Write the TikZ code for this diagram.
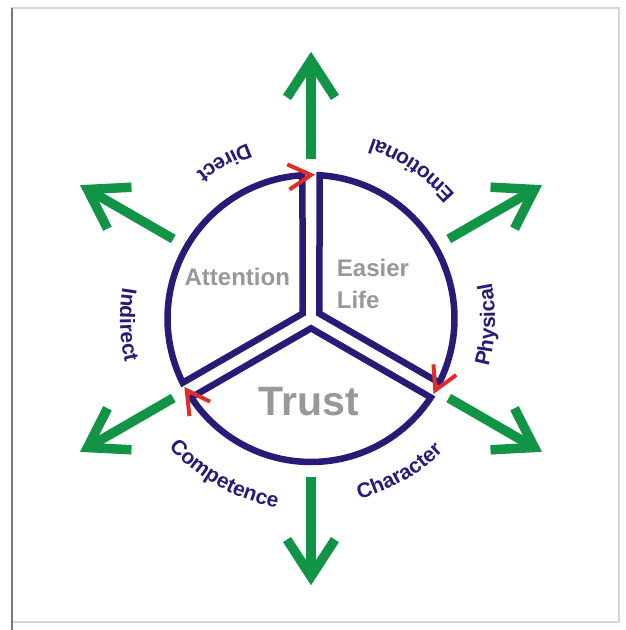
\documentclass[tikz,border=0pt]{standalone}
\usepackage{fontspec}
\setmainfont{Liberation Sans}
\usetikzlibrary{decorations.text}

\definecolor{ringnavy}{RGB}{40,26,118}
\definecolor{flowgreen}{RGB}{18,148,70}
\definecolor{tipred}{RGB}{226,44,38}
\definecolor{labelgray}{RGB}{152,152,152}
\definecolor{framelight}{RGB}{214,214,214}
\definecolor{framedark}{RGB}{120,120,120}

\newcommand{\ringlabelfont}{\fontsize{21}{21}\selectfont\bfseries}

\begin{document}
\begin{tikzpicture}[x=1pt,y=1pt,
  sector/.style={draw=ringnavy,line width=6.5pt,line join=miter},
  turnmark/.style={draw=tipred,line width=4pt,line join=miter},
  outshaft/.style={draw=flowgreen,line width=9.5pt,line cap=butt},
  outhead/.style={draw=flowgreen,line width=9.5pt,line join=miter,line cap=butt},
  graytext/.style={text=labelgray,font=\bfseries\fontsize{#1}{#1}\selectfont,inner sep=0pt},
  ringtext/.style={decorate,decoration={text along path,text={|\ringlabelfont|#1},
    text align=center,text color=ringnavy}}]

% page and frame
\useasboundingbox (0,0) rectangle (626,630);
\fill[white] (0,0) rectangle (626,630);
\draw[framelight,line width=1.2pt] (12,8) rectangle (619,622);
\draw[framedark,line width=1.6pt] (12,0) -- (12,622);

\begin{scope}[shift={(311,311.5)}]
  \coordinate (hub) at (0,0);

  % outward arrows
  \foreach \a in {90,30,-30,-90,-150,150} {
    \draw[outshaft] (\a:159) -- (\a:258);
    \draw[outhead] (\a:258) ++({\a+147}:44) -- (\a:258) -- ++({\a+213}:44);
  }

  % the three sectors
  \draw[sector] (150:9.8) -- (93.4:143.5) arc[start angle=93.4,end angle=206.6,radius=143.5] -- cycle;
  \draw[sector] (30:9.8) -- (-26.6:143.5) arc[start angle=-26.6,end angle=86.6,radius=143.5] -- cycle;
  \draw[sector] (270:9.8) -- (213.4:143.5) arc[start angle=213.4,end angle=326.6,radius=143.5] -- cycle;

  % turning marks at the clockwise end of each arc
  \foreach \t in {90,330,210} {
    \draw[turnmark] (\t:143.5) ++({\t+124}:26) -- (\t:143.5) -- ++({\t+66}:26);
  }

  % labels around the ring
  \path[ringtext=Direct] (79:186) arc[start angle=79,end angle=159,radius=186];
  \path[ringtext=Emotional] (16:190) arc[start angle=16,end angle=96,radius=190];
  \path[ringtext=Indirect] (142:191) arc[start angle=142,end angle=222,radius=191];
  \path[ringtext=Physical] (-42:184) arc[start angle=-42,end angle=38,radius=184];
  \path[ringtext=Competence] (201:192) arc[start angle=201,end angle=281,radius=192];
  \path[ringtext=Character] (260:187) arc[start angle=260,end angle=340,radius=187];
\end{scope}

% sector titles
\node[graytext=24] (attention) at (237.3,353.3) {Attention};
\node[graytext=24,anchor=west] (easier) at (336.7,361.7) {Easier};
\node[graytext=24,anchor=west] (life) at (336.7,330) {Life};
\node[graytext=41] (trust) at (309,228.3) {Trust};
\end{tikzpicture}
\end{document}
